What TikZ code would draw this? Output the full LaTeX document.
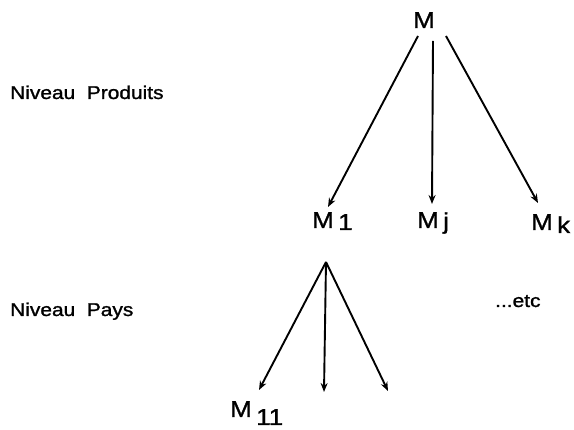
\documentclass[tikz,border=0pt]{standalone}
\usepackage{fontspec}
\setmainfont{Liberation Sans}
\newfontfamily\heavy[FakeBold=1.2]{Liberation Sans}
\usetikzlibrary{arrows.meta}
\newcommand{\hs}[1]{\scalebox{1.13}[1]{#1}}
\tikzset{
  lbl/.style={inner sep=0pt, anchor=base west, font=\heavy\fontsize{18.5}{20}\selectfont},
  mlbl/.style={inner sep=0pt, anchor=base west, font=\heavy\fontsize{23}{24}\selectfont},
  arr/.style={line width=1.9pt, -{Stealth[length=9pt,width=7pt]}},
}
\begin{document}
\begin{tikzpicture}[x=1pt,y=-1pt]
\useasboundingbox (0,0) rectangle (574,430);
% labels
\node[lbl] (np) at (10,99) {\hs{Niveau\ \ Produits}};
\node[lbl] (npays) at (10,316) {\hs{Niveau\ \ Pays}};
\node[lbl] (etc) at (495,307) {\hs{...etc}};
% M nodes
\node[mlbl] (M) at (413,28) {\hs{M}};
\node[mlbl] (M1) at (312,228) {\hs{M\,\raisebox{-2pt}{1}}};
\node[mlbl] (Mj) at (417,228) {\hs{M\,\raisebox{-1pt}{j}}};
\node[mlbl] (Mk) at (531,230) {\hs{M\,\raisebox{-3pt}{k}}};
\node[mlbl] (M11) at (230,417) {\hs{M\,\raisebox{-8pt}{11}}};
% coordinates
\coordinate (s1) at (418,36);
\coordinate (e1) at (328,207);
\coordinate (s2) at (433,41);
\coordinate (e2) at (432,204);
\coordinate (s3) at (446,36);
\coordinate (e3) at (538,203);
\coordinate (apex) at (326,262);
\coordinate (f1) at (259,390);
\coordinate (f2) at (324,392);
\coordinate (f3) at (388,391);
% arrows
\draw[arr] (s1) -- (e1);
\draw[arr] (s2) -- (e2);
\draw[arr] (s3) -- (e3);
\draw[arr] (apex) -- (f1);
\draw[arr] (apex) -- (f2);
\draw[arr] (apex) -- (f3);
\end{tikzpicture}
\end{document}
